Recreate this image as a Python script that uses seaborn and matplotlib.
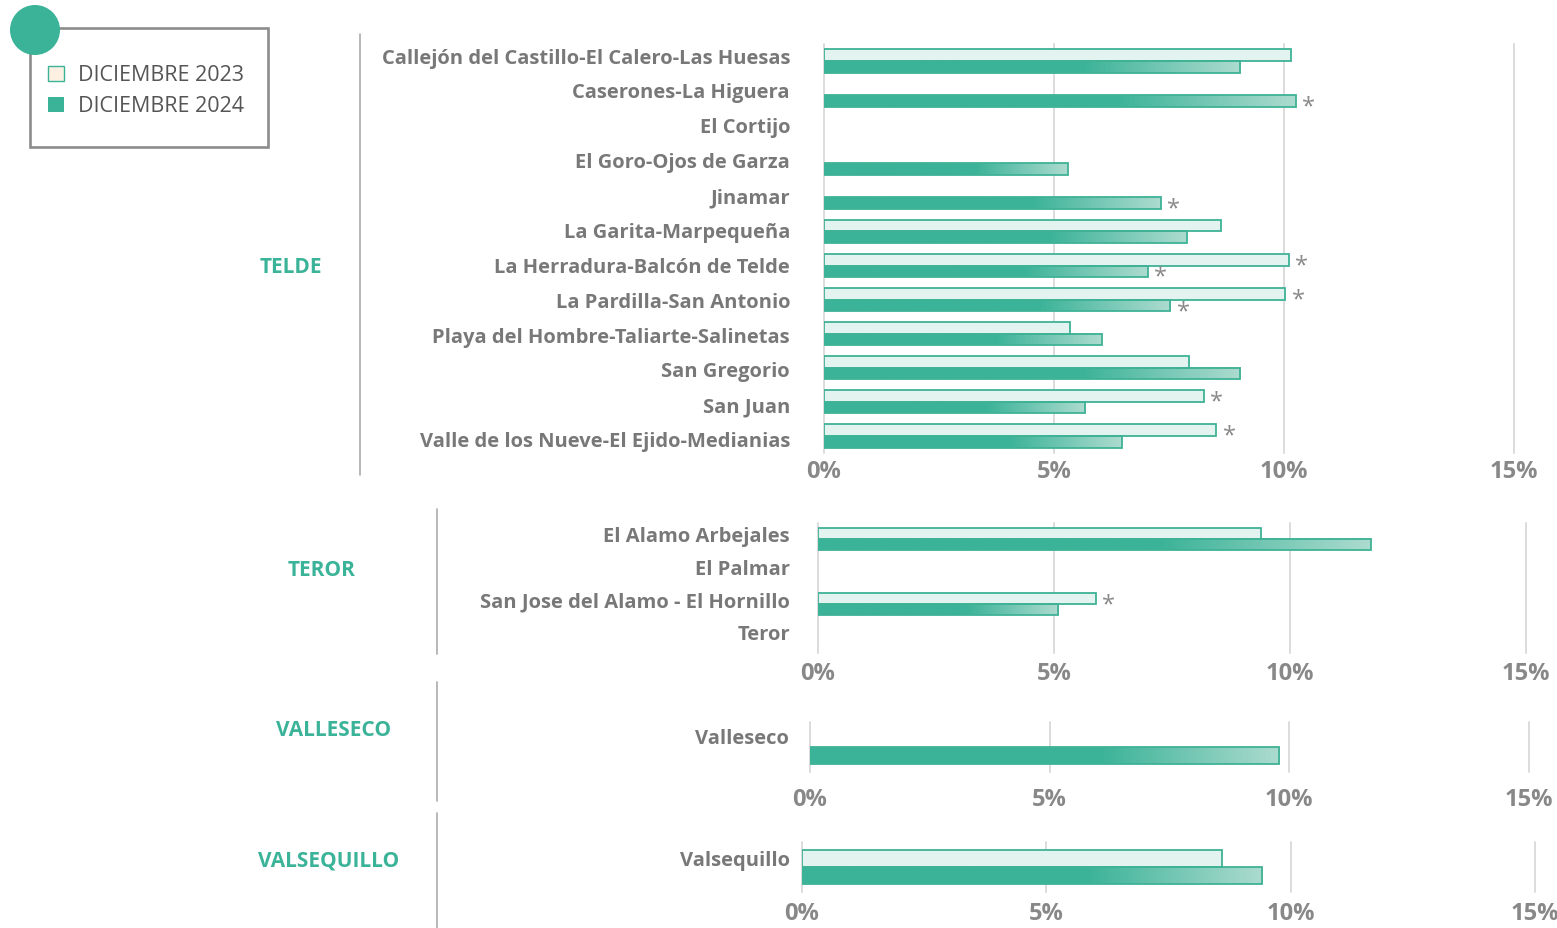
import numpy as np
import pandas as pd
import matplotlib
matplotlib.use("Agg")
import matplotlib.pyplot as plt
import seaborn as sns
from matplotlib.patches import Rectangle, Circle
from matplotlib.colors import to_rgba

nan = np.nan

# ---------------- data (% of population) ----------------
years = ["DICIEMBRE 2023", "DICIEMBRE 2024"]

telde_barrios = [
    "Callejón del Castillo-El Calero-Las Huesas",
    "Caserones-La Higuera",
    "El Cortijo",
    "El Goro-Ojos de Garza",
    "Jinamar",
    "La Garita-Marpequeña",
    "La Herradura-Balcón de Telde",
    "La Pardilla-San Antonio",
    "Playa del Hombre-Taliarte-Salinetas",
    "San Gregorio",
    "San Juan",
    "Valle de los Nueve-El Ejido-Medianias",
]
telde_2023 = [10.15, nan, nan, nan, nan, 8.62, 10.11, 10.03, 5.34, 7.93, 8.26, 8.53]
telde_2024 = [9.05, 10.26, nan, 5.30, 7.32, 7.89, 7.04, 7.53, 6.04, 9.05, 5.68, 6.47]
telde_flag_2023 = [0, 0, 0, 0, 0, 0, 1, 1, 0, 0, 1, 1]
telde_flag_2024 = [0, 1, 0, 0, 1, 0, 1, 1, 0, 0, 0, 0]

teror_barrios = ["El Alamo Arbejales", "El Palmar", "San Jose del Alamo - El Hornillo", "Teror"]
teror_2023 = [9.39, nan, 5.88, nan]
teror_2024 = [11.71, nan, 5.09, nan]
teror_flag_2023 = [0, 0, 1, 0]
teror_flag_2024 = [0, 0, 0, 0]

valleseco_barrios = ["Valleseco"]
valleseco_2023 = [nan]
valleseco_2024 = [9.79]
valleseco_flag_2023 = [0]
valleseco_flag_2024 = [0]

valsequillo_barrios = ["Valsequillo"]
valsequillo_2023 = [8.59]
valsequillo_2024 = [9.42]
valsequillo_flag_2023 = [0]
valsequillo_flag_2024 = [0]

municipios = ["TELDE", "TEROR", "VALLESECO", "VALSEQUILLO"]
x_ticks = [0, 5, 10, 15]
x_tick_labels = ["0%", "5%", "10%", "15%"]

# ---------------- style ----------------
TEAL = "#3bb398"
TEAL_END = "#acdbcf"
LIGHT = "#e3f3ef"
EDGE = "#3fb296"
GRID = "#dcdcdc"
LABEL = "#787878"
TICK = "#888888"
FONT = "Open Sans"

W, H = 1557, 929
DPI = 100

sns.set_theme(style="white")
plt.rcParams["font.family"] = [FONT, "DejaVu Sans"]

fig = plt.figure(figsize=(W / DPI, H / DPI), dpi=DPI)
fig.patch.set_facecolor("white")


def px_rect(x0, y0, x1, y1):
    return [x0 / W, 1 - y1 / H, (x1 - x0) / W, (y1 - y0) / H]


# decoration layer in pixel units
deco = fig.add_axes([0, 0, 1, 1], zorder=0)
deco.set_xlim(0, W)
deco.set_ylim(H, 0)
deco.axis("off")


def gradient_row(n=256, start=0.62):
    c0 = np.array(to_rgba(TEAL))
    c1 = np.array(to_rgba(TEAL_END))
    t = np.linspace(0, 1, n)
    f = np.clip((t - start) / (1 - start), 0, 1)[:, None]
    return (c0 * (1 - f) + c1 * f)[None, :, :]


GRAD = gradient_row()


def draw_panel(rect, barrios, v23, v24, f23, f24, label_gap, label_up, label_drift,
               xlab_pad):
    ax = fig.add_axes(px_rect(*rect), zorder=1)
    ax.patch.set_alpha(0)
    n = len(barrios)
    df = pd.DataFrame({
        "barrio": list(barrios) * 2,
        "periodo": [years[0]] * n + [years[1]] * n,
        "valor": list(v23) + list(v24),
    }).dropna()
    sns.barplot(data=df, y="barrio", x="valor", hue="periodo",
                order=barrios, hue_order=years, orient="h", dodge=True,
                palette=[LIGHT, TEAL], saturation=1, width=0.68,
                errorbar=None, edgecolor=EDGE, linewidth=1.3, legend=False,
                zorder=3, ax=ax)

    flags = {years[0]: f23, years[1]: f24}
    teal_rgba = np.array(to_rgba(TEAL))
    light_rgba = np.array(to_rgba(LIGHT))
    for p in list(ax.patches):
        w = p.get_width()
        if not np.isfinite(w) or w <= 0:
            continue
        fc = np.array(p.get_facecolor())
        is24 = np.abs(fc - teal_rgba).sum() < np.abs(fc - light_rgba).sum()
        x0, y0, h = p.get_x(), p.get_y(), p.get_height()
        cy = y0 + h / 2
        idx = int(round(cy))
        year = years[1] if is24 else years[0]
        if flags[year][idx]:
            ax.annotate("*", xy=(x0 + w, cy), xytext=(4.5, -4),
                        textcoords="offset points", ha="left", va="center",
                        fontsize=17, color="#8a8a8a", zorder=5)
        if is24:
            # 2024 bars fade from solid teal to a pale tint towards their end
            p.set_facecolor("none")
            ax.imshow(GRAD, extent=(x0, x0 + w, y0 + h, y0), aspect="auto",
                      interpolation="bilinear", zorder=2.9)

    for t in x_ticks:
        ax.axvline(t, color=GRID, lw=1.4, zorder=1, clip_on=False)

    # neighbourhood names, right-aligned left of the zero line
    for i, name in enumerate(barrios):
        dy = label_up - label_drift * i
        ax.annotate(name, xy=(0, i), xytext=(-label_gap * 0.72, dy * 0.72),
                    textcoords="offset points", ha="right", va="center",
                    fontsize=14.5, fontweight="bold", color=LABEL,
                    annotation_clip=False)

    ax.set_xlim(0, 15)
    ax.set_ylim(n - 0.5, -0.5)
    ax.set_xticks(x_ticks)
    ax.set_xticklabels(x_tick_labels)
    ax.set_yticks([])
    ax.set_xlabel("")
    ax.set_ylabel("")
    for s in ax.spines.values():
        s.set_visible(False)
    ax.tick_params(axis="x", length=0, pad=xlab_pad, labelsize=17,
                   labelcolor=TICK)
    for lab in ax.get_xticklabels():
        lab.set_fontweight("bold")
    return ax


draw_panel((824, 45, 1514, 454), telde_barrios, telde_2023, telde_2024,
           telde_flag_2023, telde_flag_2024, label_gap=34, label_up=3.5,
           label_drift=0.8, xlab_pad=4)
draw_panel((818, 524, 1526, 654), teror_barrios, teror_2023, teror_2024,
           teror_flag_2023, teror_flag_2024, label_gap=28, label_up=3,
           label_drift=0, xlab_pad=5.5)
draw_panel((810, 723, 1529, 773), valleseco_barrios, valleseco_2023, valleseco_2024,
           valleseco_flag_2023, valleseco_flag_2024, label_gap=21, label_up=9,
           label_drift=0, xlab_pad=11)
draw_panel((802, 843, 1535, 893), valsequillo_barrios, valsequillo_2023, valsequillo_2024,
           valsequillo_flag_2023, valsequillo_flag_2024, label_gap=12, label_up=7,
           label_drift=0, xlab_pad=6.5)

# municipality labels and separators
group_pos = [(291, 267), (322, 570), (334, 730), (329, 861)]
for name, (gx, gy) in zip(municipios, group_pos):
    deco.text(gx, gy, name, ha="center", va="center", color=TEAL,
              fontsize=15, fontweight="bold")
for (sx, sy0, sy1) in [(360, 35, 476), (437, 510, 655), (437, 683, 802), (437, 814, 929)]:
    deco.plot([sx, sx], [sy0, sy1], color="#ababab", lw=1.2)

# legend
deco.add_patch(Rectangle((30, 29), 238, 119, fill=False, ec="#8c8c8c", lw=1.9))
deco.add_patch(Circle((35, 31), 25, fc=TEAL, ec="none", zorder=3))
deco.add_patch(Rectangle((48, 67), 16, 15, fc="#fdf0e2", ec=TEAL, lw=1.0))
deco.add_patch(Rectangle((48, 98), 16, 15, fc=TEAL, ec="none"))
deco.text(78, 75, years[0], ha="left", va="center", color="#555555",
          fontsize=15.5)
deco.text(78, 106, years[1], ha="left", va="center", color="#555555",
          fontsize=15.5)

fig.savefig("out.png", dpi=DPI, facecolor="white")
